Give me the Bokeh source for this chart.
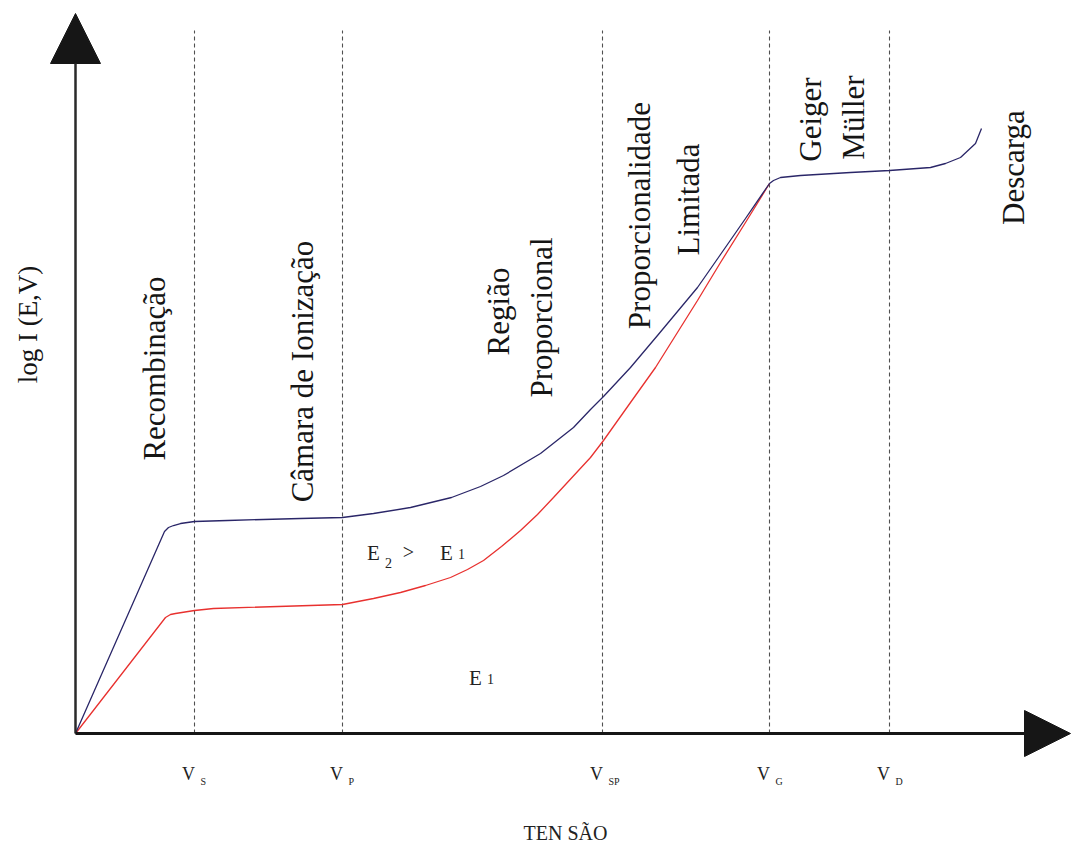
import math
from bokeh.plotting import figure
from bokeh.models import Range1d, Arrow, NormalHead
from bokeh.embed import file_html
from bokeh.resources import INLINE
from bokeh.core.properties import value

# ---- data (tension in arbitrary units, log I in arbitrary units) ----
blue_x = [0, 89, 93, 98, 105, 112, 119, 152, 225, 267, 298, 335, 376, 405, 428, 465,
          498, 515, 528, 555, 582, 622, 645, 670, 694, 698, 705, 725, 775, 814, 855,
          870, 885, 900, 906]
blue_y = [0, 202, 206, 208, 210, 211, 212, 213, 215, 216, 220, 226, 236, 247, 258, 280,
          306, 324, 337, 366, 398, 446, 479, 515, 550, 553, 556, 558, 561, 563, 566,
          570, 576, 590, 605]

red_x = [0, 90, 95, 100, 119, 138, 267, 298, 325, 350, 375, 392, 408, 426, 445, 462,
         478, 515, 528, 555, 580, 622, 645, 670, 694]
red_y = [0, 116, 119, 120, 123, 125, 129, 135, 141, 148, 156, 164, 173, 187, 203, 219,
         236, 276, 293, 331, 366, 433, 471, 511, 550]

tick_pos = [119, 267, 527, 694, 814]
tick_sub = ["S", "P", "SP", "G", "D"]

region_labels = ["Recombinação", "Câmara de Ionização", "Região", "Proporcional",
                 "Proporcionalidade", "Limitada", "Geiger", "Müller", "Descarga"]
region_x = [79, 227, 423, 466, 564, 613, 735, 778, 938]
region_y = [365, 362, 422, 416, 518, 534, 614, 616, 566]

x_title = "TEN SÃO"
y_title = "log I (E,V)"

# ---- figure ----
p = figure(width=1073, height=842, output_backend="svg", toolbar_location=None,
           x_range=Range1d(-75, 998), y_range=Range1d(-109, 733),
           x_axis_type=None, y_axis_type=None, min_border=0)
p.grid.visible = False
p.outline_line_color = None

serif = value("Liberation Serif")

# dashed region boundaries
for xv in tick_pos:
    p.segment(x0=xv, y0=0, x1=xv, y1=703, line_color="#505050", line_width=1.1,
              line_dash="4 3")

# curves
p.line(red_x, red_y, line_color="#e8312f", line_width=1.3)
p.line(blue_x, blue_y, line_color="#2a2668", line_width=1.3)

# axes with arrow heads
p.add_layout(Arrow(end=NormalHead(size=50, fill_color="#161616", line_color="#161616"),
                   x_start=0, y_start=0, x_end=0, y_end=720,
                   line_color="#2a2a2a", line_width=2.5))
p.add_layout(Arrow(end=NormalHead(size=46, fill_color="#161616", line_color="#161616"),
                   x_start=0, y_start=0, x_end=995, y_end=0,
                   line_color="#161616", line_width=3))

# tick labels V with subscripts
p.text(x=[t - 6 for t in tick_pos], y=[-40] * len(tick_pos), text=["V"] * len(tick_pos),
       text_font=serif, text_font_size="18px", text_align="center",
       text_baseline="middle", text_color="#222222")
p.text(x=[t + 6 for t in tick_pos], y=[-48] * len(tick_pos), text=tick_sub,
       text_font=serif, text_font_size="10px", text_align="left",
       text_baseline="middle", text_color="#222222")

# region labels (vertical)
p.text(x=region_x, y=region_y, text=region_labels, angle=math.pi / 2,
       text_font=serif, text_font_size="31px", text_align="center",
       text_baseline="middle", text_color="#151515")

# E labels
p.text(x=[298, 371, 400], y=[181, 181, 56], text=["E", "E", "E"],
       text_font=serif, text_font_size="21px", text_align="center",
       text_baseline="middle", text_color="#222222")
p.text(x=[313, 386, 415], y=[171, 180, 55], text=["2", "1", "1"],
       text_font=serif, text_font_size="14px", text_align="center",
       text_baseline="middle", text_color="#222222")
p.text(x=[333], y=[182], text=[">"],
       text_font=serif, text_font_size="20px", text_align="center",
       text_baseline="middle", text_color="#222222")

# axis titles
p.text(x=[490], y=[-99], text=[x_title], text_font=serif, text_font_size="20px",
       text_align="center", text_baseline="middle", text_color="#222222")
p.text(x=[-48], y=[409], text=[y_title], angle=math.pi / 2, text_font=serif,
       text_font_size="27px", text_align="center", text_baseline="middle",
       text_color="#151515")

open("out.html", "w").write(file_html(p, INLINE))
